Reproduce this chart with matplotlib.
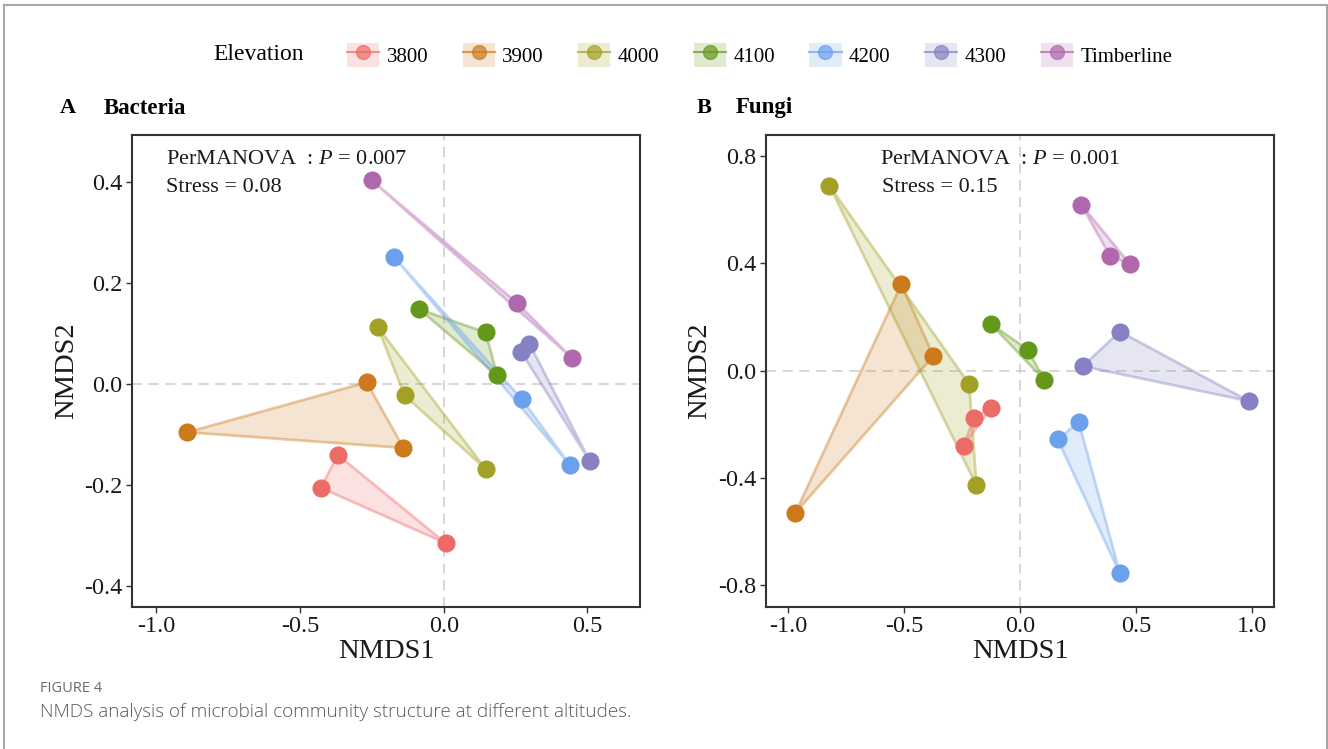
import matplotlib
matplotlib.use("Agg")
import matplotlib.pyplot as plt
from matplotlib.lines import Line2D
from matplotlib.patches import Patch
from matplotlib.legend_handler import HandlerTuple

plt.rcParams['font.family'] = ['Liberation Serif', 'DejaVu Serif']
plt.rcParams['mathtext.fontset'] = 'custom'
plt.rcParams['mathtext.it'] = 'Liberation Serif:italic'
plt.rcParams['mathtext.rm'] = 'Liberation Serif'

# ---------------- data ----------------
groups = ["3800", "3900", "4000", "4100", "4200", "4300", "Timberline"]
colors = ["#EC6B66", "#CC7A1C", "#A3A125", "#63981B", "#6BA0EC", "#8581C2", "#B068AD"]

# Bacteria NMDS coordinates (3 samples per group)
bac_x = {
    "3800": [-0.368, -0.428, 0.007],
    "3900": [-0.268, -0.892, -0.140],
    "4000": [-0.230, -0.136, 0.146],
    "4100": [-0.085, 0.146, 0.186],
    "4200": [-0.172, 0.273, 0.439],
    "4300": [0.269, 0.298, 0.509],
    "Timberline": [-0.251, 0.254, 0.447],
}
bac_y = {
    "3800": [-0.141, -0.206, -0.316],
    "3900": [0.003, -0.096, -0.127],
    "4000": [0.113, -0.023, -0.169],
    "4100": [0.148, 0.102, 0.017],
    "4200": [0.251, -0.031, -0.161],
    "4300": [0.064, 0.080, -0.154],
    "Timberline": [0.404, 0.161, 0.051],
}
# Fungi NMDS coordinates
fun_x = {
    "3800": [-0.123, -0.199, -0.243],
    "3900": [-0.512, -0.374, -0.969],
    "4000": [-0.823, -0.219, -0.188],
    "4100": [-0.125, 0.033, 0.105],
    "4200": [0.254, 0.162, 0.431],
    "4300": [0.431, 0.271, 0.987],
    "Timberline": [0.265, 0.387, 0.475],
}
fun_y = {
    "3800": [-0.137, -0.175, -0.279],
    "3900": [0.322, 0.055, -0.529],
    "4000": [0.690, -0.050, -0.427],
    "4100": [0.174, 0.079, -0.035],
    "4200": [-0.192, -0.255, -0.755],
    "4300": [0.146, 0.017, -0.113],
    "Timberline": [0.618, 0.429, 0.396],
}

bac_xticks = [-1.0, -0.5, 0.0, 0.5]
bac_yticks = [-0.4, -0.2, 0.0, 0.2, 0.4]
fun_xticks = [-1.0, -0.5, 0.0, 0.5, 1.0]
fun_yticks = [-0.8, -0.4, 0.0, 0.4, 0.8]

panels = [
    dict(x=bac_x, y=bac_y, xticks=bac_xticks, yticks=bac_yticks,
         xlim=(-1.0835, 0.683), ylim=(-0.442, 0.493),
         letter="A", name="Bacteria", p="0.007", stress="0.08"),
    dict(x=fun_x, y=fun_y, xticks=fun_xticks, yticks=fun_yticks,
         xlim=(-1.096, 1.096), ylim=(-0.879, 0.877),
         letter="B", name="Fungi", p="0.001", stress="0.15"),
]

W, H = 1328, 749
fig = plt.figure(figsize=(W / 100, H / 100), dpi=100)

axes_px = [(132.3, 640.0), (766.0, 1274.0)]
top_px, bot_px = 135.3, 606.7
title_px = [(60, 104), (697, 736)]
annot_px = [165.5, 880.5]

for i, pan in enumerate(panels):
    l, r = axes_px[i]
    ax = fig.add_axes([l / W, 1 - bot_px / H, (r - l) / W, (bot_px - top_px) / H])
    ax.axhline(0, color="#d0d0d0", lw=1.2, ls=(0, (6, 4)), zorder=0)
    ax.axvline(0, color="#d0d0d0", lw=1.2, ls=(0, (6, 4)), zorder=0)
    for g, c in zip(groups, colors):
        xs, ys = pan["x"][g], pan["y"][g]
        ax.fill(xs, ys, facecolor=c, alpha=0.2, edgecolor="none", zorder=1)
        ax.fill(xs, ys, facecolor="none", edgecolor=c, alpha=0.4, lw=2, zorder=2)
    for g, c in zip(groups, colors):
        ax.scatter(pan["x"][g], pan["y"][g], s=150, color=c, edgecolor=c,
                   linewidth=0.8, zorder=3)
    ax.set_xlim(*pan["xlim"])
    ax.set_ylim(*pan["ylim"])
    ax.set_xticks(pan["xticks"])
    ax.set_yticks(pan["yticks"])
    ax.set_xticklabels([f"{v:.1f}" for v in pan["xticks"]])
    ax.set_yticklabels([f"{v:.1f}" for v in pan["yticks"]])
    ax.tick_params(direction="out", length=4, width=1, color="#333333",
                   labelsize=17.5, labelcolor="#1a1a1a", pad=3)
    for sp in ax.spines.values():
        sp.set_color("#333333")
        sp.set_linewidth(1.5)
    ax.set_xlabel("NMDS1", fontsize=20.5, color="#1a1a1a", labelpad=1)
    ax.set_ylabel("NMDS2", fontsize=20.5, color="#1a1a1a", labelpad=4)
    fig.text(title_px[i][0] / W, 1 - 108 / H, pan["letter"], fontsize=16,
             fontweight="bold", va="center", ha="left")
    fig.text(title_px[i][1] / W, 1 - 108 / H, pan["name"], fontsize=16.5,
             fontweight="bold", va="center", ha="left")
    fig.text(annot_px[i] / W, 1 - 160 / H,
             r"PerMANOVA  : $\it{P}$ = " + pan["p"], fontsize=16,
             va="center", ha="left", color="#1a1a1a")
    fig.text(annot_px[i] / W + 1 / W, 1 - 187 / H, "Stress = " + pan["stress"],
             fontsize=16, va="center", ha="left", color="#1a1a1a")

# legend
handles = []
for c in colors:
    handles.append((Patch(facecolor=c, alpha=0.2, edgecolor="none"),
                    Line2D([0], [0], color=c, lw=1.5, alpha=0.7, marker="o",
                           markersize=10, markerfacecolor=c, markeredgecolor=c)))
fig.text(213 / W, 1 - 55 / H, "Elevation", fontsize=17, va="center", ha="left")
fig.legend(handles, groups, handler_map={tuple: HandlerTuple(ndivide=1, pad=0)},
           loc="center left", bbox_to_anchor=(347 / W, 1 - 55 / H), ncol=7,
           frameon=False, borderpad=0, borderaxespad=0, fontsize=15,
           handlelength=1.55, handleheight=1.45, handletextpad=0.35,
           columnspacing=1.65)

# caption
fig.text(40 / W, 1 - 688 / H, "FIGURE 4", fontsize=10.5, color="#6b6b6b",
         family=["Open Sans", "DejaVu Sans"], va="center", ha="left")
fig.text(40 / W, 1 - 712 / H,
         "NMDS analysis of microbial community structure at different altitudes.",
         fontsize=13.6, color="#5a5a5a", family=["Open Sans", "DejaVu Sans"],
         fontweight="light", va="center", ha="left")

# outer frame
for xs, ys in [([4 / W, 4 / W], [0, 1 - 5 / H]),
               ([4 / W, 1 - 1.5 / W], [1 - 5 / H, 1 - 5 / H]),
               ([1 - 1.5 / W, 1 - 1.5 / W], [0, 1 - 5 / H])]:
    fig.add_artist(Line2D(xs, ys, color="#a8a8a8", lw=1.5))

fig.savefig("out.png", dpi=100)
